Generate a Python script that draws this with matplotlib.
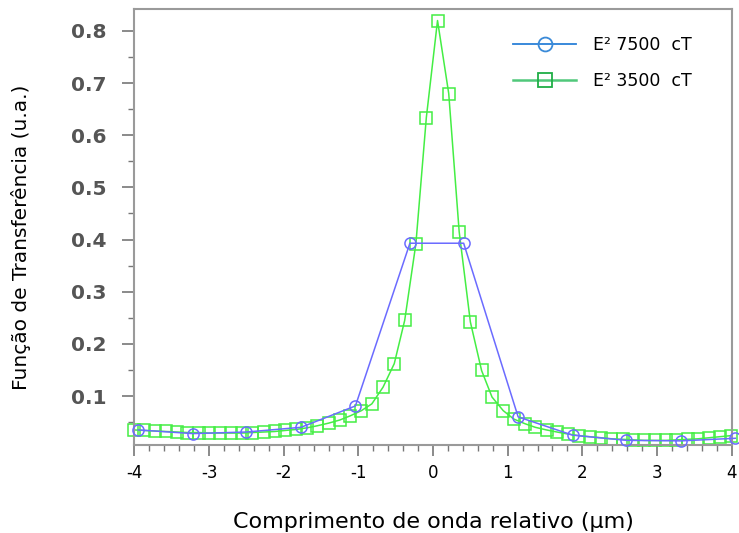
import matplotlib
matplotlib.use("Agg")
import matplotlib.pyplot as plt
from matplotlib.lines import Line2D
from matplotlib.ticker import MultipleLocator

plt.rcParams['axes.unicode_minus'] = False

# E^2 7500 cT (circles)
x_7500 = [-3.95, -3.22, -2.50, -1.77, -1.04, -0.31, 0.41, 1.14, 1.87, 2.59, 3.32, 4.05]
y_7500 = [0.035, 0.028, 0.031, 0.040, 0.081, 0.393, 0.393, 0.060, 0.025, 0.015, 0.014, 0.019]

# E^2 3500 cT (squares)
x_3500 = [-4.01, -3.87, -3.72, -3.58, -3.43, -3.29, -3.14, -3.00, -2.85, -2.71,
          -2.56, -2.42, -2.27, -2.12, -1.98, -1.83, -1.69, -1.55, -1.40, -1.25,
          -1.11, -0.96, -0.82, -0.67, -0.52, -0.38, -0.23, -0.09, 0.06, 0.21,
          0.35, 0.50, 0.65, 0.79, 0.94, 1.08, 1.23, 1.37, 1.52, 1.66,
          1.81, 1.96, 2.10, 2.25, 2.39, 2.54, 2.68, 2.83, 2.97, 3.12,
          3.26, 3.41, 3.55, 3.70, 3.84, 3.99]
y_3500 = [0.035, 0.034, 0.033, 0.032, 0.031, 0.030, 0.030, 0.029, 0.029, 0.029,
          0.029, 0.030, 0.031, 0.032, 0.034, 0.036, 0.039, 0.043, 0.048, 0.054,
          0.062, 0.072, 0.085, 0.117, 0.162, 0.245, 0.392, 0.634, 0.820, 0.680,
          0.415, 0.242, 0.149, 0.098, 0.072, 0.056, 0.047, 0.040, 0.035, 0.031,
          0.027, 0.024, 0.022, 0.020, 0.018, 0.017, 0.016, 0.015, 0.015, 0.015,
          0.016, 0.017, 0.018, 0.020, 0.022, 0.024]

labels = ["E² 7500  cT", "E² 3500  cT"]

fig = plt.figure(figsize=(7.39, 5.33), dpi=100)
ax = fig.add_axes([0.182, 0.165, 0.808, 0.818])

ax.plot(x_7500, y_7500, color="#6b6bff", lw=1.1, marker="o", ms=8,
        mfc="none", mec="#6b6bff", mew=1.1, clip_on=False, zorder=3)
ax.plot(x_3500, y_3500, color="#44ee44", lw=1.1, marker="s", ms=8.5,
        mfc="none", mec="#44ee44", mew=1.1, clip_on=False, zorder=2)

ax.set_xlim(-4, 4)
ax.set_ylim(0.006, 0.842)
ax.xaxis.set_major_locator(MultipleLocator(1))
ax.xaxis.set_minor_locator(MultipleLocator(0.2))
ax.yaxis.set_minor_locator(MultipleLocator(0.05))
ax.set_yticks([0.1, 0.2, 0.3, 0.4, 0.5, 0.6, 0.7, 0.8])
ax.set_yticklabels(["0.1", "0.2", "0.3", "0.4", "0.5", "0.6", "0.7", "0.8"])

for s in ax.spines.values():
    s.set_color("#9a9a9a")
    s.set_linewidth(1.5)

ax.tick_params(axis="both", which="major", direction="out", length=9,
               width=1.2, color="#777777")
ax.tick_params(axis="both", which="minor", direction="out", length=4,
               width=1.0, color="#777777")
ax.tick_params(axis="x", which="major", length=8, labelsize=12,
               labelcolor="black", pad=6)
ax.tick_params(axis="y", which="major", labelsize=14.5, labelcolor="#555555", pad=11)
for t in ax.get_yticklabels():
    t.set_fontweight("bold")

ax.set_xlabel("Comprimento de onda relativo (µm)", fontsize=16, labelpad=21)
ax.set_ylabel("Função de Transferência (u.a.)", fontsize=14.5)
ax.yaxis.set_label_coords(-0.173, 0.477)

handles = [
    Line2D([], [], color="#2a80d8", lw=1.3, marker="o", ms=10, mfc="none",
           mec="#3a8ad8", mew=1.3),
    Line2D([], [], color="#50c87a", lw=1.8, marker="s", ms=10, mfc="none",
           mec="#1fae45", mew=1.3),
]
ax.legend(handles, labels, loc="upper right", frameon=False, fontsize=12.5,
          handlelength=3.6, handletextpad=1.0, labelspacing=1.05,
          bbox_to_anchor=(0.96, 0.975))

fig.savefig("out.png", dpi=100)
